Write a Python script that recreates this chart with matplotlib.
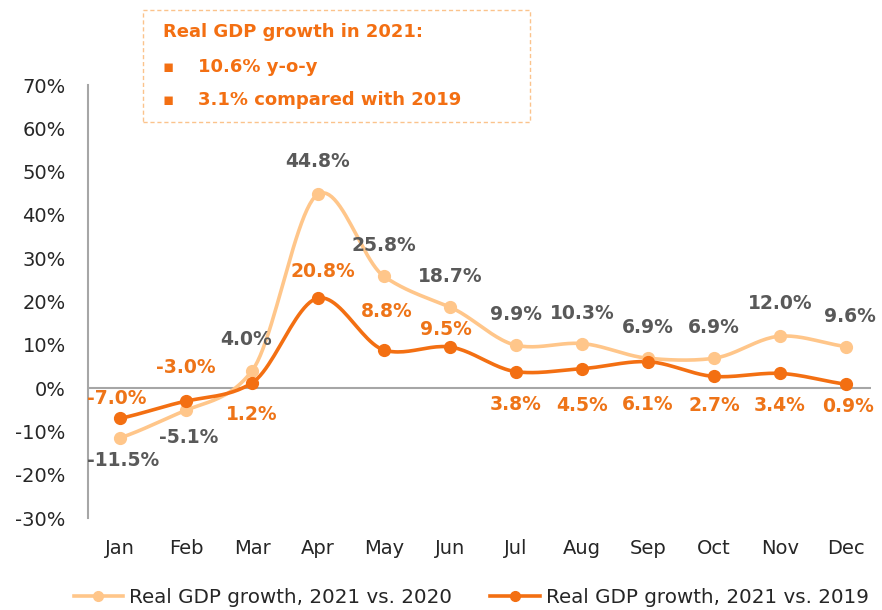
import numpy as np
import matplotlib.pyplot as plt
from matplotlib.patches import Rectangle

plt.rcParams['font.family'] = ['DejaVu Sans']

months = ['Jan', 'Feb', 'Mar', 'Apr', 'May', 'Jun', 'Jul', 'Aug', 'Sep', 'Oct', 'Nov', 'Dec']
growth_vs_2020 = [-11.5, -5.1, 4.0, 44.8, 25.8, 18.7, 9.9, 10.3, 6.9, 6.9, 12.0, 9.6]
growth_vs_2019 = [-7.0, -3.0, 1.2, 20.8, 8.8, 9.5, 3.8, 4.5, 6.1, 2.7, 3.4, 0.9]
yticks = [-30, -20, -10, 0, 10, 20, 30, 40, 50, 60, 70]

# label offsets in pixels (dx, dy up)
off_2020 = [(3, -23), (3, -27), (-6, 31), (0, 33), (0, 31), (0, 31),
            (0, 31), (0, 30), (0, 31), (0, 31), (0, 33), (4, 30)]
off_2019 = [(-3, 20), (0, 34), (0, -32), (5, 27), (3, 39), (-4, 17),
            (0, -33), (0, -37), (0, -43), (0, -29), (0, -32), (2, -22)]

light = '#FFC68A'
dark = '#F36F12'
grey_txt = '#595959'
lbl_orange = '#EE7418'


def smooth(y, k=0.4, n=24):
    # hermite curve through the points, tangents from the neighbours
    y = np.asarray(y, float)
    m = np.zeros_like(y)
    m[1:-1] = k * (y[2:] - y[:-2])
    m[0] = k * 2 * (y[1] - y[0])
    m[-1] = k * 2 * (y[-1] - y[-2])
    t = np.linspace(0, 1, n, endpoint=False)
    h00 = 2 * t**3 - 3 * t**2 + 1
    h10 = t**3 - 2 * t**2 + t
    h01 = -2 * t**3 + 3 * t**2
    h11 = t**3 - t**2
    xs, ys = [], []
    for i in range(len(y) - 1):
        xs.extend(i + t)
        ys.extend(h00 * y[i] + h10 * m[i] + h01 * y[i + 1] + h11 * m[i + 1])
    xs.append(len(y) - 1)
    ys.append(y[-1])
    return np.array(xs), np.array(ys)


fig = plt.figure(figsize=(8.82, 6.1), dpi=100)
ax = fig.add_axes([0.0998, 0.1508, 0.8878, 0.7098])

x = np.arange(len(months))
for vals, col in ((growth_vs_2020, light), (growth_vs_2019, dark)):
    sx, sy = smooth(vals)
    ax.plot(sx, sy, color=col, lw=2.6, solid_capstyle='round', zorder=3)
    ax.plot(x, vals, 'o', color=col, ms=8.5, zorder=4)

for xi, v, (dx, dy) in zip(x, growth_vs_2020, off_2020):
    ax.annotate(f'{v:.1f}%', (xi, v), xytext=(dx * 0.72, dy * 0.72),
                textcoords='offset points', ha='center', va='center',
                fontsize=13.5, fontweight='bold', color=grey_txt, zorder=5)
for xi, v, (dx, dy) in zip(x, growth_vs_2019, off_2019):
    ax.annotate(f'{v:.1f}%', (xi, v), xytext=(dx * 0.72, dy * 0.72),
                textcoords='offset points', ha='center', va='center',
                fontsize=13.5, fontweight='bold', color=lbl_orange, zorder=5)

ax.axhline(0, color='#A6A6A6', lw=1.5, zorder=1)
ax.set_xlim(-0.485, 11.38)
ax.set_ylim(-30, 70)
ax.set_yticks(yticks)
ax.set_yticklabels([f'{t}%' for t in yticks])
ax.set_xticks(x)
ax.set_xticklabels(months)
ax.tick_params(axis='both', length=0, labelsize=14, colors='#262626')
ax.tick_params(axis='y', pad=16)
ax.tick_params(axis='x', pad=15)
for s in ('top', 'right', 'bottom'):
    ax.spines[s].set_visible(False)
ax.spines['left'].set_color('#A6A6A6')
ax.spines['left'].set_linewidth(1.5)

# legend
h1, = ax.plot([], [], '-o', color=light, lw=2.6, ms=7)
h2, = ax.plot([], [], '-o', color=dark, lw=2.6, ms=7)
fig.legend([h1, h2], ['Real GDP growth, 2021 vs. 2020', 'Real GDP growth, 2021 vs. 2019'],
           loc='lower center', bbox_to_anchor=(0.534, -0.025), ncol=2, frameon=False,
           fontsize=14.3, handlelength=2.5, columnspacing=1.9, handletextpad=0.3,
           labelcolor='#262626')

# annotation box
fig.patches.append(Rectangle((143 / 882, 1 - 122 / 610), 387 / 882, 112 / 610,
                             transform=fig.transFigure, fill=False,
                             edgecolor='#FBC38C', lw=1.0, ls=(0, (3, 2))))
fig.text(163 / 882, 1 - 32 / 610, 'Real GDP growth in 2021:', fontsize=13,
         fontweight='bold', color=dark, va='center')
for yy, txt in ((67, '10.6% y-o-y'), (100, '3.1% compared with 2019')):
    fig.text(163 / 882, 1 - yy / 610, '\u25AA', fontsize=12, color=dark, va='center')
    fig.text(198 / 882, 1 - yy / 610, txt, fontsize=13, fontweight='bold',
             color=dark, va='center')

fig.savefig('out.png', dpi=100)
